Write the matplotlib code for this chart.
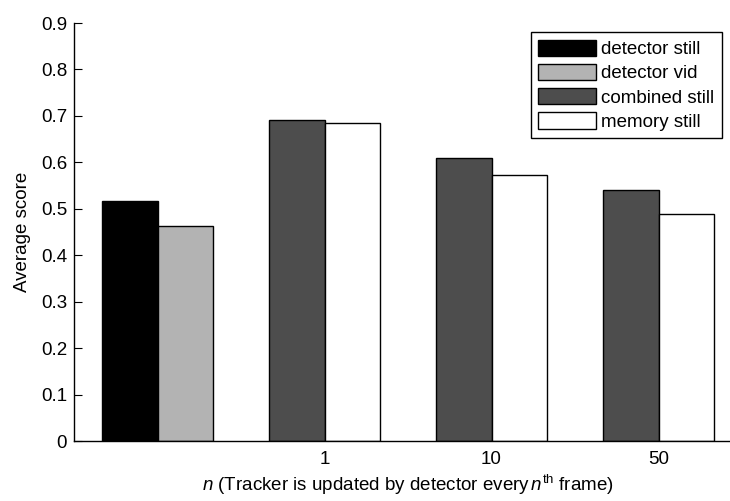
import matplotlib
matplotlib.use("Agg")
import matplotlib.pyplot as plt
import numpy as np

plt.rcParams['font.family'] = ['Liberation Sans', 'DejaVu Sans']
plt.rcParams['mathtext.fontset'] = 'custom'
plt.rcParams['mathtext.rm'] = 'Liberation Sans'
plt.rcParams['mathtext.it'] = 'Liberation Sans:italic'

groups = ["", "1", "10", "50"]
detector_still = [0.517]
detector_vid = [0.462]
combined_still = [0.691, 0.609, 0.541]
memory_still = [0.685, 0.573, 0.489]
yticks = [0, 0.1, 0.2, 0.3, 0.4, 0.5, 0.6, 0.7, 0.8, 0.9]

FS = 13.5

fig = plt.figure(figsize=(7.30, 5.01), dpi=100)
ax = fig.add_axes([74/730, 1-441/501, 668/730, 418/501])

w = 0.335
x0 = np.arange(len(detector_still))
x1 = np.arange(1, 1 + len(combined_still))
ax.bar(x0 - w/2, detector_still, w, color='black', edgecolor='black', lw=1, label='detector still')
ax.bar(x0 + w/2, detector_vid, w, color='#b3b3b3', edgecolor='black', lw=1, label='detector vid')
ax.bar(x1 - w/2, combined_still, w, color='#4d4d4d', edgecolor='black', lw=1, label='combined still')
ax.bar(x1 + w/2, memory_still, w, color='white', edgecolor='black', lw=1, label='memory still')

ax.set_xlim(-0.5, 3.5)
ax.set_ylim(0, 0.9)
ax.set_yticks(yticks)
ax.set_yticklabels([f"{t:g}" for t in yticks])
ax.set_xticks(np.arange(len(groups)))
ax.set_xticklabels(groups)
ax.tick_params(direction='in', length=6, labelsize=FS, width=0.8, pad=5)
ax.tick_params(axis='x', length=0, pad=7)
for s in ['top', 'right']:
    ax.spines[s].set_visible(False)
for s in ['left', 'bottom']:
    ax.spines[s].set_linewidth(1.0)

ax.set_ylabel('Average score', fontsize=FS, labelpad=7)
ax.set_xlabel(r'$\it{n}$ (Tracker is updated by detector every$\,\it{n}^{\rm th}$ frame)', fontsize=FS, labelpad=4)

leg = ax.legend(loc='upper right', bbox_to_anchor=(0.970, 0.978), borderaxespad=0,
                fontsize=FS, fancybox=False, edgecolor='black', framealpha=1,
                handlelength=3.1, handleheight=0.96, labelspacing=0.3, handletextpad=0.27,
                borderpad=0.4)
leg.get_frame().set_linewidth(1.0)

fig.savefig('out.png', dpi=100)
